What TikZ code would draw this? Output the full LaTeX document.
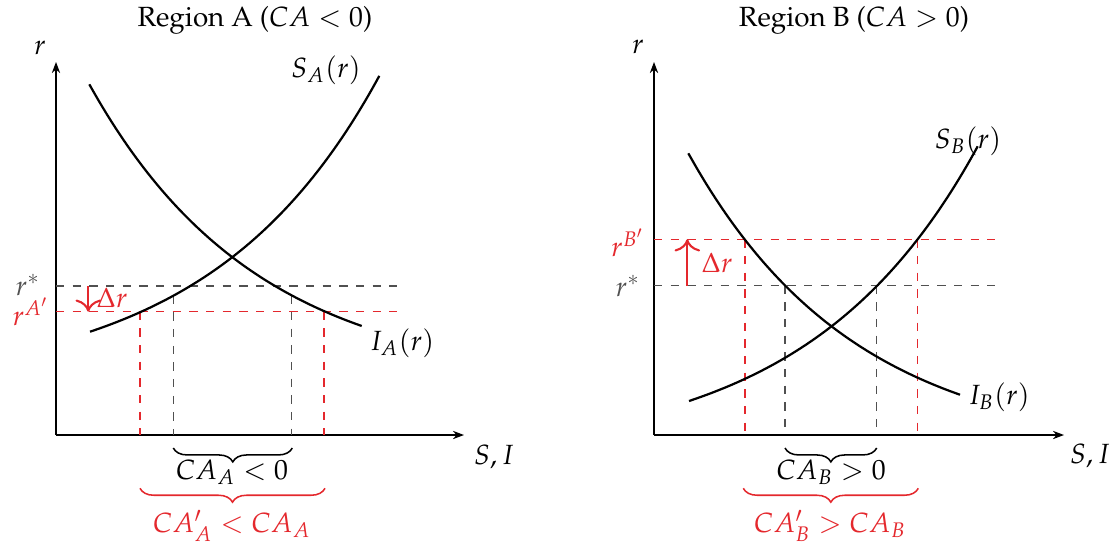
\documentclass[tikz,border=0pt]{standalone}
\usepackage[T1]{fontenc}
\usepackage{mathpazo}
\usetikzlibrary{decorations.pathreplacing,arrows.meta}
\definecolor{myred}{RGB}{228,40,45}
\definecolor{mygray}{RGB}{80,80,80}
\begin{document}
\begin{tikzpicture}[x=0.36pt,y=-0.36pt,
  axis/.style={line width=0.45pt, -{Stealth[length=4pt,width=3pt]}},
  curve/.style={line width=0.8pt},
  guide/.style={dashed, line width=0.45pt, mygray},
  redguide/.style={dashed, line width=0.45pt, myred},
  shiftarrow/.style={myred, line width=0.75pt, -{To[scale=1.35]}},
  bracestyle/.style={decorate, decoration={brace, mirror, amplitude=5pt}, line width=0.55pt}]
\useasboundingbox (0,0) rectangle (1114,544);

% ---------------- Region A ----------------
\node (titleA) at (255,20) {Region A ($CA<0$)};
\coordinate (oA) at (56,435);
\coordinate (yA) at (56,62);
\coordinate (xA) at (464,435);
\draw[axis] (oA) -- (yA);
\draw[axis] (oA) -- (xA);
\node (rA) at (40,48) {$r$};
\node (siA) at (494,457) {$S,I$};

\coordinate (rsA0) at (56,286);   \coordinate (rsA1) at (397,286);
\coordinate (rpA0) at (56,311.7); \coordinate (rpA1) at (397,311.7);
\draw[guide] (rsA0) -- (rsA1);
\draw[redguide] (rpA0) -- (rpA1);

\coordinate (vA1t) at (173.3,295.8); \coordinate (vA1b) at (173.3,435);
\coordinate (vA2t) at (291.7,295.4); \coordinate (vA2b) at (291.7,435);
\coordinate (vA3t) at (140,311.7);   \coordinate (vA3b) at (140,435);
\coordinate (vA4t) at (324,311.7);   \coordinate (vA4b) at (324,435);
\draw[guide] (vA1t) -- (vA1b);
\draw[guide] (vA2t) -- (vA2b);
\draw[redguide] (vA3t) -- (vA3b);
\draw[redguide] (vA4t) -- (vA4b);

\draw[curve] plot[domain=90:379.3, samples=80] (\x, {435-(46.7+56.6*exp(0.0059*(\x-90)))});
\draw[curve] plot[domain=89.3:361.7, samples=80] (\x, {435-(50.4+300.3*exp(-0.006*(\x-89.3)))});
\node (SA) at (326,70) {$S_A(r)$};
\node (IA) at (402,343) {$I_A(r)$};

\node[mygray, inner sep=1pt] (rstarA) at (28,285) {$r^*$};
\node[myred, inner sep=1pt] (rprA) at (31,312) {$r^{A'}$};
\coordinate (dA0) at (88.3,286); \coordinate (dA1) at (88.3,311.7);
\draw[shiftarrow] (dA0) -- (dA1);
\node[myred] (drA) at (112,298) {$\Delta r$};

\coordinate (bA0) at (173.3,448); \coordinate (bA1) at (292.3,448);
\draw[bracestyle] (bA0) -- (bA1);
\node (caA) at (232,472) {$CA_A<0$};
\coordinate (bA2) at (140,488.3); \coordinate (bA3) at (325,488.3);
\draw[bracestyle, myred] (bA2) -- (bA3);
\node[myred] (caAp) at (232,526) {$CA_A'<CA_A$};

% ---------------- Region B ----------------
\node (titleB) at (854,20) {Region B ($CA>0$)};
\coordinate (oB) at (654,435);
\coordinate (yB) at (654,62);
\coordinate (xB) at (1064,435);
\draw[axis] (oB) -- (yB);
\draw[axis] (oB) -- (xB);
\node (rB) at (638,47) {$r$};
\node (siB) at (1090,456) {$S,I$};

\coordinate (rsB0) at (654,285.7); \coordinate (rsB1) at (995,285.7);
\coordinate (rpB0) at (654,239.3); \coordinate (rpB1) at (995,239.3);
\draw[guide] (rsB0) -- (rsB1);
\draw[redguide] (rpB0) -- (rpB1);

\coordinate (vB1t) at (785,285.7);   \coordinate (vB1b) at (785,435);
\coordinate (vB2t) at (876.7,285.7); \coordinate (vB2b) at (876.7,435);
\coordinate (vB3t) at (745,239.3);   \coordinate (vB3b) at (745,435);
\coordinate (vB4t) at (917.3,239.3); \coordinate (vB4b) at (917.3,435);
\draw[guide] (vB1t) -- (vB1b);
\draw[guide] (vB2t) -- (vB2b);
\draw[redguide] (vB3t) -- (vB3b);
\draw[redguide] (vB4t) -- (vB4b);

\draw[curve] plot[domain=689:977.7, samples=80] (\x, {435-(-22.6+56.6*exp(0.0059*(\x-689)))});
\draw[curve] plot[domain=688.3:960, samples=80] (\x, {435-(-18.6+300.3*exp(-0.006*(\x-688.3)))});
\node (SB) at (968,141) {$S_B(r)$};
\node (IB) at (999,397) {$I_B(r)$};

\node[mygray] (rstarB) at (628,286) {$r^*$};
\node[myred] (rprB) at (628,243) {$r^{B'}$};
\coordinate (dB0) at (687.3,285.7); \coordinate (dB1) at (687.3,239.3);
\draw[shiftarrow] (dB0) -- (dB1);
\node[myred] (drB) at (717,263) {$\Delta r$};

\coordinate (bB0) at (785,448); \coordinate (bB1) at (876.7,448);
\draw[bracestyle] (bB0) -- (bB1);
\node (caB) at (831,472) {$CA_B>0$};
\coordinate (bB2) at (743.3,488.3); \coordinate (bB3) at (918.3,488.3);
\draw[bracestyle, myred] (bB2) -- (bB3);
\node[myred] (caBp) at (830,526) {$CA_B'>CA_B$};
\end{tikzpicture}
\end{document}
